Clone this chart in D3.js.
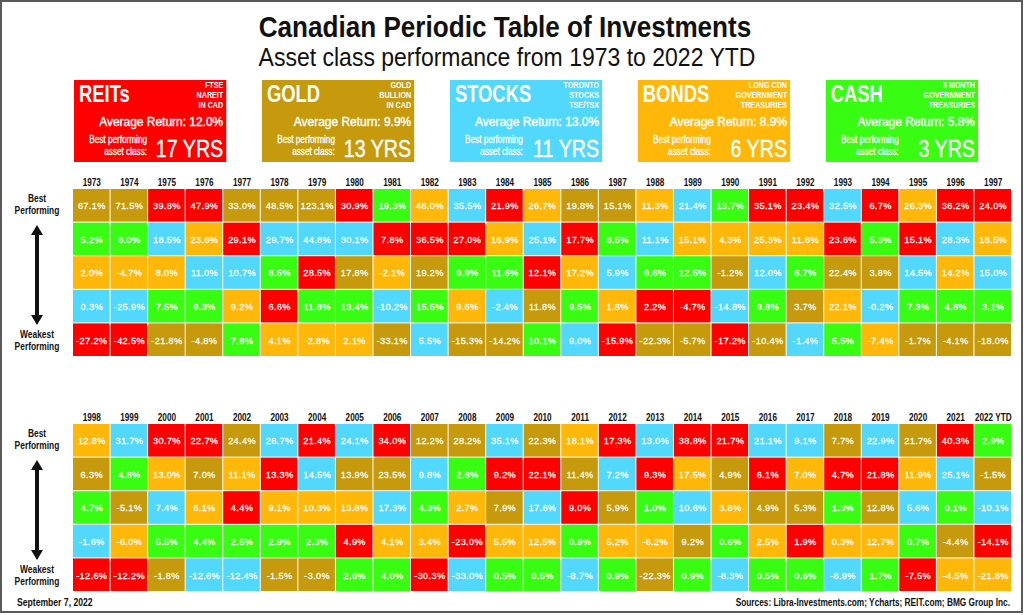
<!DOCTYPE html>
<html><head><meta charset="utf-8">
<script src="https://cdn.jsdelivr.net/npm/d3@7"></script>
<style>
body{margin:0;background:#fff}
svg{display:block}
text{font-family:"Liberation Sans",Arial,sans-serif}
</style>
</head><body>
<svg id="c" width="1024" height="615"></svg>
<script>
const assetKeys = ["R","G","S","B","C"];
const assetNames = ["REITs","GOLD","STOCKS","BONDS","CASH"];
const assetSources = [["FTSE","NAREIT","IN CAD"],["GOLD","BULLION","IN CAD"],["TORONTO","STOCKS","TSE/TSX"],["LONG CDN","GOVERNMENT","TREASURIES"],["3 MONTH","GOVERNMENT","TREASURIES"]];
const assetColors = ["#ff0000","#c69a0c","#52d8fc","#ffb80a","#38fc12"];
const avgReturns = [12.0, 9.9, 13.0, 8.9, 5.8];
const bestYears = [17, 13, 11, 6, 3];

const years = ["1973","1974","1975","1976","1977","1978","1979","1980","1981","1982","1983","1984","1985","1986","1987","1988","1989","1990","1991","1992","1993","1994","1995","1996","1997",
"1998","1999","2000","2001","2002","2003","2004","2005","2006","2007","2008","2009","2010","2011","2012","2013","2014","2015","2016","2017","2018","2019","2020","2021","2022 YTD"];

// asset in each rank (best -> weakest), one string per year
const rankOrder = ["GCBSR","GCBSR","RSBCG","RBSCG","GRSBC","GSCRB","GSRCB","RSGCB","CRBSG","BRGCS","SRCBG","RBCSG","BSRGC","GRBCS","GCSBR","BSCRG","SBCRG","CBGSR","RBSCG","RBCGS","SRGBC","RCGSB","BRSCG","RSBCG","RBSCG",
"BGCSR","SCGBR","RBSCG","RGBCS","GBRCS","SRBCG","RSBCG","SGBRC","RGSBC","GSCBR","GCBRS","SRGBC","GRSBC","BGRCS","RSGBC","SRCBG","RBSGC","RGBCS","SRGBC","SBGRC","GRCBS","SRGBC","GBSCR","RSCGB","CGSRB"];

// returns (%) in each rank, best -> weakest
const rankValues = [
[67.1,5.2,2.0,0.3,-27.2],[71.5,8.0,-4.7,-25.9,-42.5],[39.8,18.5,8.0,7.5,-21.8],[47.9,23.6,11.0,9.3,-4.8],[33.0,29.1,10.7,9.2,7.8],
[48.5,29.7,8.5,6.6,4.1],[123.1,44.8,28.5,11.8,-2.8],[30.9,30.1,17.8,13.4,2.1],[19.3,7.8,-2.1,-10.2,-33.1],[46.0,36.5,19.2,15.5,5.5],
[35.5,27.0,9.9,9.6,-15.3],[21.9,16.9,11.6,-2.4,-14.2],[26.7,25.1,12.1,11.8,10.1],[19.8,17.7,17.2,9.5,9.0],[15.1,8.5,5.9,1.8,-15.9],
[11.3,11.1,9.6,2.2,-22.3],[21.4,15.1,12.5,-4.7,-5.7],[13.7,4.3,-1.2,-14.8,-17.2],[35.1,25.3,12.0,9.8,-10.4],[23.4,11.6,6.7,3.7,-1.4],
[32.5,23.6,22.4,22.1,5.5],[6.7,5.3,3.8,-0.2,-7.4],[26.3,15.1,14.5,7.3,-1.7],[36.2,28.3,14.2,4.8,-4.1],[24.0,18.5,15.0,3.1,-18.0],
[12.8,6.3,4.7,-1.6,-12.6],[31.7,4.8,-5.1,-6.0,-12.2],[30.7,13.0,7.4,5.5,-1.8],[22.7,7.0,6.1,4.4,-12.6],[24.4,11.1,4.4,2.5,-12.4],
[26.7,13.3,9.1,2.9,-1.5],[21.4,14.5,10.3,2.3,-3.0],[24.1,13.9,13.8,4.9,2.6],[34.0,23.5,17.3,4.1,4.0],[12.2,9.8,4.3,3.4,-30.3],
[28.2,2.8,2.7,-23.0,-33.0],[35.1,9.2,7.9,5.5,0.5],[22.3,22.1,17.6,12.5,0.5],[18.1,11.4,9.0,0.9,-8.7],[17.3,7.2,5.9,5.2,0.9],
[13.0,9.3,1.0,-6.2,-22.3],[38.8,17.5,10.6,9.2,0.9],[21.7,4.9,3.8,0.6,-8.3],[21.1,6.1,4.9,2.5,0.5],[9.1,7.0,5.3,1.9,0.6],
[7.7,4.7,1.3,0.3,-8.9],[22.9,21.8,12.8,12.7,1.7],[21.7,11.9,5.6,0.7,-7.5],[40.3,25.1,0.1,-4.4,-4.5],[2.9,-1.5,-10.1,-14.1,-21.8]
];

const svg = d3.select("#c");
const color = d3.scaleOrdinal().domain(assetKeys).range(assetColors);

// condensed text helper (horizontal squeeze)
function ct(parent, x, y, str, o) {
  o = Object.assign({size:10, weight:"normal", anchor:"start", sx:0.82, fill:"#111", ls:0, sw:0}, o||{});
  const t = parent.append("text")
    .attr("transform", `translate(${x},${y}) scale(${o.sx},1)`)
    .attr("text-anchor", o.anchor).attr("font-size", o.size).attr("font-weight", o.weight)
    .attr("fill", o.fill).attr("letter-spacing", o.ls).text(str);
  if (o.sw) t.attr("stroke", o.fill).attr("stroke-width", o.sw);
  return t;
}

// frame
svg.append("rect").attr("x",1).attr("y",1).attr("width",1021).attr("height",611)
  .attr("fill","none").attr("stroke","#5a5a5a").attr("stroke-width",2);

// titles
ct(svg, 505, 37, "Canadian Periodic Table of Investments", {size:30, weight:"bold", anchor:"middle", sx:0.87});
ct(svg, 507, 66, "Asset class performance from 1973 to 2022 YTD", {size:25, anchor:"middle", sx:0.92});

// legend boxes
const lx = d3.scaleBand().domain(assetKeys).range([74, 978]).paddingInner(0.19).paddingOuter(0);
assetKeys.forEach((k,i)=>{
  const g = svg.append("g").attr("transform",`translate(${lx(k)},80)`);
  const w = lx.bandwidth(), h = 82;
  g.append("rect").attr("width",w).attr("height",h).attr("fill",assetColors[i]);
  ct(g, 5, 22, assetNames[i], {size:23, weight:"bold", fill:"#fff", sx:0.8});
  assetSources[i].forEach((s,j)=>{
    ct(g, w-3, 8+j*10, s, {size:9, weight:"bold", anchor:"end", fill:"#fff", sx:0.8});
  });
  ct(g, w-3, 46, `Average Return:  ${avgReturns[i].toFixed(1)}%`, {size:13, anchor:"end", fill:"#fff", sx:0.92, sw:0.4});
  ct(g, 73, 63, "Best performing", {size:10, anchor:"end", fill:"#fff", sx:0.82, sw:0.3});
  ct(g, 73, 75, "asset class:", {size:10, anchor:"end", fill:"#fff", sx:0.82, sw:0.3});
  ct(g, w-3, 77, `${bestYears[i]} YRS`, {size:24, anchor:"end", fill:"#fff", sx:0.82, sw:0.4});
});

// panels
const panels = [{start:0,end:25,top:189},{start:25,end:50,top:424}];
const ranks = [0,1,2,3,4];
panels.forEach(p=>{
  const pyears = years.slice(p.start,p.end);
  const x = d3.scaleBand().domain(pyears).range([73,1012]);
  const y = d3.scaleBand().domain(ranks).range([p.top,p.top+168]);
  const cells = [];
  pyears.forEach((yr,i)=>{
    ranks.forEach(r=>{
      cells.push({year:yr, rank:r, asset:rankOrder[p.start+i][r], value:rankValues[p.start+i][r]});
    });
  });
  const g = svg.append("g");
  g.selectAll("rect").data(cells).join("rect")
    .attr("x",d=>x(d.year)).attr("y",d=>y(d.rank))
    .attr("width",x.bandwidth()-1).attr("height",y.bandwidth()-1)
    .attr("fill",d=>color(d.asset));
  g.selectAll("text.v").data(cells).join("text").attr("class","v")
    .attr("transform",d=>`translate(${x(d.year)+x.bandwidth()/2},${y(d.rank)+y.bandwidth()/2+3.4}) scale(0.95,1)`)
    .attr("text-anchor","middle").attr("font-size",9.7).attr("fill","#fff")
    .attr("stroke","#fff").attr("stroke-width",0.25)
    .attr("letter-spacing",0.35)
    .text(d=>d.value.toFixed(1)+"%");
  const ax = svg.append("g").attr("transform",`translate(0,${p.top})`)
    .call(d3.axisTop(x).tickSize(0).tickPadding(3));
  ax.select(".domain").remove();
  ax.selectAll("text").attr("font-size",10).attr("font-weight","bold").attr("fill","#111")
    .attr("transform","scale(0.82,1)")
    .style("font-family",'"Liberation Sans",Arial,sans-serif');

  // side labels
  const side = svg.append("g");
  ct(side, 37, p.top+13, "Best", {size:10.5, weight:"bold", anchor:"middle", sx:0.8});
  ct(side, 37, p.top+25, "Performing", {size:10.5, weight:"bold", anchor:"middle", sx:0.8});
  ct(side, 37, p.top+149, "Weakest", {size:10.5, weight:"bold", anchor:"middle", sx:0.8});
  ct(side, 37, p.top+161, "Performing", {size:10.5, weight:"bold", anchor:"middle", sx:0.8});
  side.append("line").attr("x1",37).attr("x2",37).attr("y1",p.top+44).attr("y2",p.top+128).attr("stroke","#111").attr("stroke-width",4);
  side.append("path").attr("d",`M31,${p.top+46} L37,${p.top+36} L43,${p.top+46} Z`).attr("fill","#111");
  side.append("path").attr("d",`M31,${p.top+126} L37,${p.top+136} L43,${p.top+126} Z`).attr("fill","#111");
});

// footer
ct(svg, 17, 606, "September 7, 2022", {size:10.5, weight:"bold", sx:0.82});
ct(svg, 1010, 606, "Sources: Libra-Investments.com; Ycharts; REIT.com; BMG Group Inc.", {size:10.5, weight:"bold", anchor:"end", sx:0.79});
</script>
</body></html>
